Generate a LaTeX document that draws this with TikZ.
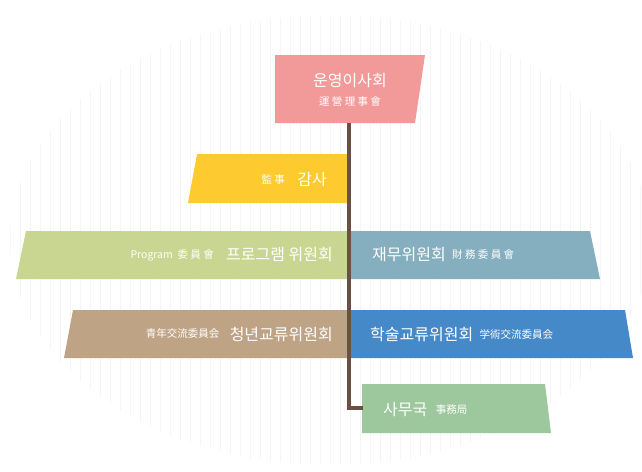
\documentclass[tikz,border=0pt]{standalone}
\usepackage{fontspec}
\setmainfont{Noto Sans CJK KR}
\definecolor{board}{HTML}{F29A9A}
\definecolor{audit}{HTML}{FDCB2F}
\definecolor{prog}{HTML}{C8D692}
\definecolor{fin}{HTML}{85AFBF}
\definecolor{youth}{HTML}{BFA385}
\definecolor{acad}{HTML}{4689C8}
\definecolor{office}{HTML}{9DC79C}
\definecolor{stem}{HTML}{6B5046}
\begin{document}
\begin{tikzpicture}[x=1pt,y=-1pt]
	\tikzset{big/.style = {text=white, inner sep=0pt, font=\fontsize{16}{18}\selectfont}}
	\tikzset{small/.style = {text=white, inner sep=0pt, font=\fontsize{10.5}{12}\selectfont}}
	\tikzset{edge/.style = {stem, line width=4pt}}
	\useasboundingbox (0,0) rectangle (642,471);
	
	% faint grid
	\begin{scope}
	\clip (330,240) ellipse (320 and 225);
	\draw[black!4, step=10] (0,0) grid (642,471);
	\end{scope}
	
	% boxes
	\fill[board]  (275, 55) -- (425, 55) -- (415,123) -- (275,123) -- cycle;
	\fill[audit]  (197,154) -- (347,154) -- (347,203) -- (188,203) -- cycle;
	\fill[prog]   ( 26,231) -- (349,231) -- (349,279) -- ( 16,279) -- cycle;
	\fill[fin]    (351,231) -- (590,231) -- (600,279) -- (351,279) -- cycle;
	\fill[youth]  ( 73,310) -- (349,310) -- (349,358) -- ( 64,358) -- cycle;
	\fill[acad]   (351,310) -- (625,310) -- (633,358) -- (351,358) -- cycle;
	\fill[office] (362,384) -- (545,384) -- (551,433) -- (362,433) -- cycle;
	
	% texts
	\node[big]   (board) at (350, 81) {운영이사회};
	\node[small] (boardh) at (350,102) {運 營 理 事 會};
	\node[big, anchor=east]   (audit) at (327,180) {감사};
	\node[small, anchor=east] (audith) at (audit.west) [xshift=-12pt] {監 事};
	\node[big, anchor=east]   (prog) at (333,255) {프로그램 위원회};
	\node[small, anchor=east] (progh) at (prog.west) [xshift=-12pt] {Program\ \ 委 員 會};
	\node[big, anchor=west]   (fin) at (372,255) {재무위원회};
	\node[small, anchor=west] (finh) at (fin.east) [xshift=6pt] {財 務 委 員 會};
	\node[big, anchor=east]   (youth) at (333,334) {청년교류위원회};
	\node[small, anchor=east] (youthh) at (youth.west) [xshift=-10pt] {青年交流委員会};
	\node[big, anchor=west]   (acad) at (370,334) {학술교류위원회};
	\node[small, anchor=west] (acadh) at (acad.east) [xshift=6pt] {学術交流委員会};
	\node[big, anchor=west]   (office) at (383,410) {사무국};
	\node[small, anchor=west] (officeh) at (office.east) [xshift=8pt] {事務局};
	
	% connector
	\coordinate (top) at (349,123);
	\coordinate (bend) at (349,408);
	\coordinate (end) at (363,408);
	\draw[edge] (top) -- (bend) -- (end);
\end{tikzpicture}
\end{document}
